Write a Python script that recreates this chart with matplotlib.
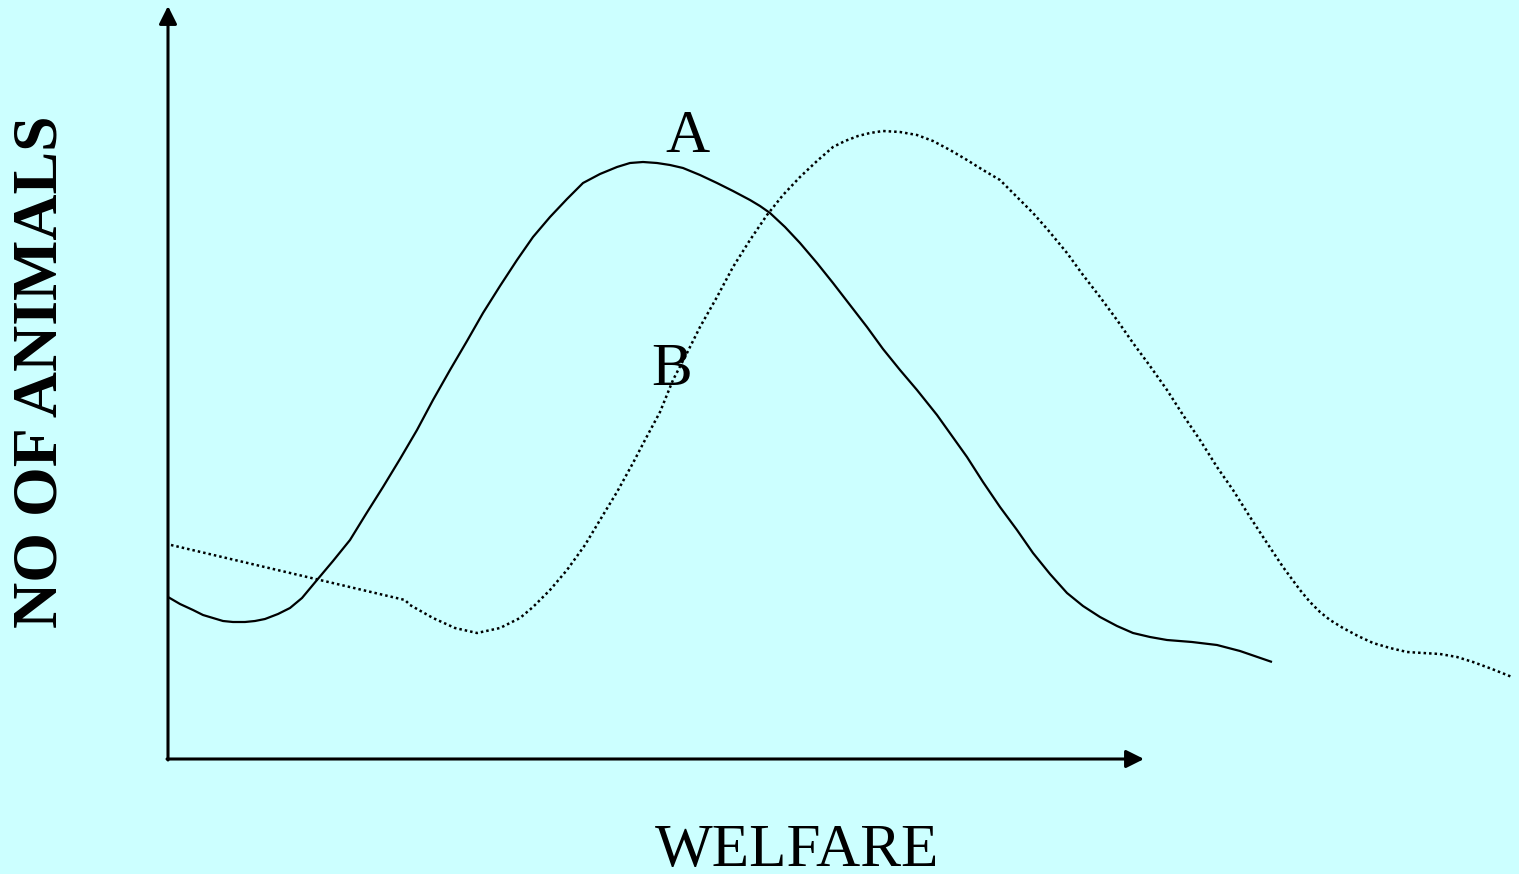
import matplotlib.pyplot as plt

# curve A (solid) in pixel units
a_x = [168, 180, 193, 203, 213, 223, 233, 245, 255, 265, 278, 290, 302, 317,
       333, 350, 366, 383, 400, 417, 433, 450, 467, 483, 500, 517, 533, 550,
       567, 583, 600, 617, 630, 643, 657, 670, 683, 700, 717, 733, 750, 760,
       770, 785, 800, 817, 833, 850, 867, 883, 900, 917, 937, 952, 967, 983,
       1000, 1017, 1033, 1050, 1067, 1083, 1100, 1117, 1133, 1150, 1167, 1192,
       1217, 1240, 1272]
a_y = [597, 604, 610, 615, 618, 621, 622, 622, 621, 619, 614, 608, 598, 580,
       561, 540, 514, 487, 459, 430, 400, 370, 341, 313, 286, 260, 237, 217,
       199, 183, 174, 167, 163, 162, 163, 165, 168, 175, 183, 191, 200, 206,
       213, 227, 243, 263, 283, 305, 327, 349, 370, 390, 415, 436, 457, 482,
       507, 530, 553, 574, 593, 606, 617, 626, 633, 637, 640, 642,
       645, 651, 662]

# curve B (dotted)
b_x = [171, 405, 410, 433, 455, 477, 500, 520, 533, 550, 567, 585, 600, 617,
       633, 645, 660, 673, 687, 700, 717, 733, 750, 767, 783, 800, 817, 833,
       845, 858, 870, 883, 900, 917, 933, 950, 967, 983, 1000, 1017, 1033,
       1048, 1067, 1083, 1100, 1117, 1133, 1150, 1167, 1183, 1200, 1217, 1233,
       1250, 1267, 1283, 1300, 1310, 1320, 1330, 1343, 1358, 1373, 1390, 1407,
       1423, 1440, 1457, 1473, 1492, 1512]
b_y = [545, 600, 605, 618, 628, 633, 628, 618, 607, 590, 570, 545, 520, 492,
       463, 440, 412, 380, 353, 327, 297, 267, 240, 215, 195, 177, 161, 147,
       141, 136, 133, 131, 132, 135, 141, 150, 160, 170, 180, 197, 213,
       230, 253, 275, 297, 320, 343, 366, 390, 415, 440, 467, 490,
       517, 543, 567, 590, 602, 612, 620, 628, 636, 643, 648, 652,
       653, 654, 657, 662, 669, 677]

bg = '#ccffff'
fig = plt.figure(figsize=(15.19, 8.74), dpi=100, facecolor=bg)
ax = fig.add_axes([0, 0, 1, 1])
ax.set_facecolor(bg)
ax.set_xlim(0, 1519)
ax.set_ylim(874, 0)
ax.axis('off')

# axes with arrow heads
arrow = dict(arrowstyle='-|>,head_length=0.6,head_width=0.3', lw=2.2,
             color='black', mutation_scale=18, shrinkA=0, shrinkB=0)
ax.annotate('', xy=(168, 6), xytext=(168, 760), arrowprops=arrow)
ax.annotate('', xy=(1144, 759), xytext=(167, 759), arrowprops=arrow)

ax.plot(a_x, a_y, color='black', lw=1.6, solid_capstyle='butt',
        solid_joinstyle='round')
ax.plot(b_x, b_y, color='black', lw=1.8, linestyle=(0, (1, 1.2)))

serif = ['Liberation Serif', 'DejaVu Serif']
ax.text(687, 152, 'A', fontsize=44, family=serif, ha='center', va='baseline')
ax.text(672, 385, 'B', fontsize=44, family=serif, ha='center', va='baseline')
ax.text(797, 866, 'WELFARE', fontsize=44, family=serif, ha='center', va='baseline')
ax.text(42, 372, 'NO OF ANIMALS', fontsize=46, family=serif, fontweight='bold',
        rotation=90, ha='center', va='center')

fig.savefig('out.png', dpi=100, facecolor=bg)
